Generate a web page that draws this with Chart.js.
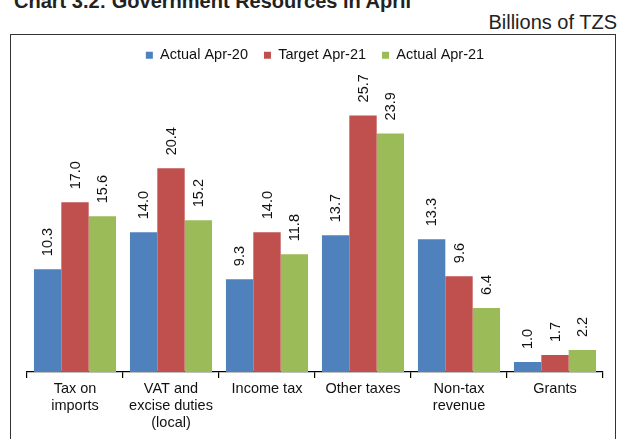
<!DOCTYPE html>
<html>
<head>
<meta charset="utf-8">
<script src="https://cdn.jsdelivr.net/npm/chart.js@4/dist/chart.umd.min.js"></script>
<style>
  html, body { margin: 0; padding: 0; background: #fff; }
  body { width: 621px; height: 439px; position: relative; overflow: hidden;
         font-family: "Liberation Sans", Arial, Helvetica, sans-serif; }
  #title { position: absolute; left: 14px; top: -9px; line-height: 20px;
           font-size: 20px; font-weight: bold; color: #222; white-space: nowrap; }
  #units { position: absolute; right: 4px; top: 12px; line-height: 20px;
           font-size: 20px; color: #222; white-space: nowrap; }
  #frame { position: absolute; left: 10px; top: 34px; width: 606px; height: 420px;
           border: 1.5px solid #333; box-sizing: border-box; }
  #wrap { position: absolute; left: 0; top: 0; width: 621px; height: 439px; }
</style>
</head>
<body>
<div id="title">Chart 3.2: Government Resources in April</div>
<div id="units">Billions of TZS</div>
<div id="frame"></div>
<div id="wrap"><canvas id="c" width="621" height="439"></canvas></div>
<script>
// Revenue categories (multi-line axis labels)
const categories = [
  ["Tax on", "imports"],
  ["VAT and", "excise duties", "(local)"],
  ["Income tax"],
  ["Other taxes"],
  ["Non-tax", "revenue"],
  ["Grants"]
];
const seriesNames = ["Actual Apr-20", "Target Apr-21", "Actual Apr-21"];
const actualApr20 = [10.3, 14.0, 9.3, 13.7, 13.3, 1.0];
const targetApr21 = [17.0, 20.4, 14.0, 25.7, 9.6, 1.7];
const actualApr21 = [15.6, 15.2, 11.8, 23.9, 6.4, 2.2];
const seriesColors = ["#4F81BD", "#C0504D", "#9BBB59"];

const FONT = "'Liberation Sans', Arial, Helvetica, sans-serif";

// Vertical value labels above every bar
const barValueLabels = {
  id: "barValueLabels",
  afterDatasetsDraw(chart) {
    const ctx = chart.ctx;
    ctx.save();
    ctx.font = "14.5px " + FONT;
    ctx.fillStyle = "#111";
    ctx.textAlign = "left";
    ctx.textBaseline = "middle";
    chart.data.datasets.forEach((ds, di) => {
      const meta = chart.getDatasetMeta(di);
      meta.data.forEach((bar, i) => {
        ctx.save();
        ctx.translate(bar.x + 0.5, bar.y - 13);
        ctx.rotate(-Math.PI / 2);
        ctx.fillText(ds.data[i].toFixed(1), 0, 0);
        ctx.restore();
      });
    });
    ctx.restore();
  }
};

new Chart(document.getElementById("c"), {
  type: "bar",
  data: {
    labels: categories,
    datasets: [
      { label: seriesNames[0], data: actualApr20, backgroundColor: seriesColors[0] },
      { label: seriesNames[1], data: targetApr21, backgroundColor: seriesColors[1] },
      { label: seriesNames[2], data: actualApr21, backgroundColor: seriesColors[2] }
    ]
  },
  options: {
    responsive: false,
    animation: false,
    devicePixelRatio: 1,
    layout: { padding: { left: 27, right: 18, top: 32, bottom: 0 } },
    datasets: {
      bar: { categoryPercentage: 0.855, barPercentage: 1.0, borderWidth: 0 }
    },
    plugins: {
      tooltip: { enabled: false },
      legend: {
        position: "top",
        labels: {
          boxWidth: 7, boxHeight: 7, padding: 16, color: "#111",
          font: { family: FONT, size: 14.5 }
        }
      }
    },
    scales: {
      x: {
        offset: true,
        grid: { display: true, drawOnChartArea: false, drawTicks: true, tickLength: 6,
                color: "#000", lineWidth: 1.2, offset: true },
        border: { display: true, color: "#000", width: 1.2 },
        ticks: { color: "#111", padding: 3, maxRotation: 0, autoSkip: false,
                 font: { family: FONT, size: 14.5, lineHeight: 1.17 } },
        afterFit(scale) { scale.height = 67; }
      },
      y: {
        display: false,
        min: 0,
        max: 30
      }
    }
  },
  plugins: [barValueLabels]
});
</script>
</body>
</html>
